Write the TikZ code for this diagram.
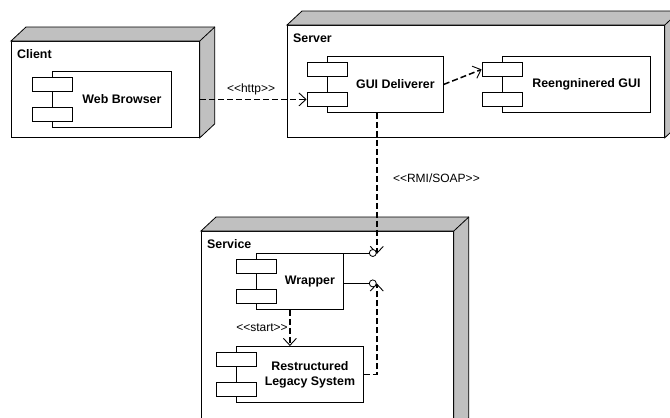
\documentclass[tikz,border=0pt]{standalone}
\usepackage{fontspec}
\setmainfont{Liberation Sans}[Ligatures=TeXOff]
\usetikzlibrary{arrows.meta, calc, positioning}
\definecolor{sidegray}{RGB}{192,192,192}
\tikzset{
	device/.style={draw, fill=white, anchor=north west, inner sep=0, line width=0.8pt},
	comp/.style={draw, fill=white, anchor=north west, inner sep=0, minimum height=56, line width=0.8pt},
	port/.style={draw, fill=white, anchor=north, inner sep=0, minimum width=40, minimum height=14, line width=0.8pt},
	devname/.style={anchor=west, inner sep=0, font=\fontsize{12.4}{14}\selectfont\bfseries},
	compname/.style={inner sep=0, align=center, font=\fontsize{12.4}{15}\selectfont\bfseries},
	stereo/.style={inner sep=1.5pt, font=\fontsize{12}{14}\selectfont},
	dep/.style={line width=1.5pt, dash pattern=on 6pt off 3pt, -{Straight Barb[length=7pt, width=13pt, line width=0.9pt]}},
	lolli/.style={circle, draw, fill=white, minimum size=7, inner sep=0, line width=0.8pt}
}
\newcommand{\drawdevice}[5]{\node[device, minimum width=#3, minimum height=#4] (#1) at #2 {};
	\filldraw[fill=sidegray, line width=0.8pt] (#1.north west) -- ++(15,-14) -- ($(#1.north east)+(15,-14)$)
		-- ($(#1.south east)+(15,-14)$) -- (#1.south east) -- (#1.north east) -- cycle;
	\draw[line width=0.8pt] (#1.north east) -- ++(15,-14);
	\node[devname] (#1-name) at ($(#1.north west)+(6,13)$) {#5}}
\newcommand{\drawcomp}[4]{\node[comp, minimum width=#3] (#1) at #2 {};
	\node[port] (#1-p1) at ($(#1.north west)+(0,6)$) {};
	\node[port] (#1-p2) at ($(#1.north west)+(0,36)$) {};
	\node[compname] (#1-name) at ($(#1.center)+(10,0)$) {#4}}

\begin{document}
\begin{tikzpicture}[x=1pt, y=-1pt]
	\useasboundingbox (0,0) rectangle (670,418);
	% nodes
	\drawdevice{cl}{(11,41)}{188}{96}{Client};
	\drawdevice{sv}{(287,25)}{377}{112}{Server};
	\drawdevice{se}{(201,231)}{252}{200}{Service};
	% components
	\drawcomp{wb}{(52,71)}{119}{Web Browser};
	\drawcomp{gd}{(327,56)}{116}{GUI Deliverer};
	\drawcomp{rg}{(502,56)}{148}{Reengninered GUI};
	\drawcomp{wr}{(256,253)}{87}{Wrapper};
	\drawcomp{rl}{(236,346)}{127}{Restructured\\Legacy System};
	% interfaces of the wrapper
	\coordinate (wi1) at ($(wr.north east)+(29,0)$);
	\coordinate (wi2) at ($(wr.east)+(29,2)$);
	\coordinate (sk1) at ($(wi1)+(4,1)$);
	\coordinate (sk2) at ($(wi2)+(4,0)$);
	\coordinate (st) at ($(wr.south)+(-10,0)$);
	\draw[line width=0.8pt] (wr.north east) -- (wi1);
	\draw[line width=0.8pt] (wr.east) |- (wi2);
	% connectors
	\draw[dep] (wb.east -| cl.east) -- (gd-p2.west) node[pos=0.48, above=2.5pt, stereo] {<<http>>};
	\draw[dep] (gd.east) -- (rg-p1.west);
	\draw[dep] (gd.south -| sk1) -- (sk1) node[pos=0.46, right=14pt, stereo] {<<RMI/SOAP>>};
	\draw[dep] (st) -- (st |- rl.north) node[midway, left=0pt, stereo] {<<start>>};
	\draw[dep] (rl.east) -| (sk2);
	\node[lolli] (wi1c) at (wi1) {};
	\node[lolli] (wi2c) at (wi2) {};
\end{tikzpicture}
\end{document}
